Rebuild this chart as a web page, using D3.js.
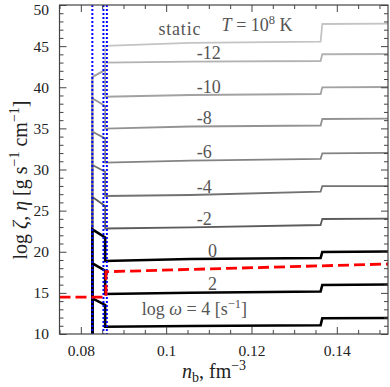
<!DOCTYPE html>
<html>
<head>
<meta charset="utf-8">
<script src="https://cdn.jsdelivr.net/npm/d3@7"></script>
<style>
  body { margin: 0; background: #fff; }
  svg { display: block; }
  text { font-family: "Liberation Serif", "Times New Roman", serif; }
</style>
</head>
<body>
<svg id="canvas" width="390" height="387"></svg>
<script>
// ---------------------------------------------------------------- data
// curves, lightest (static) first so the black ones are drawn on top
var curveNames  = ['static', '-12', '-10', '-8', '-6', '-4', '-2', '0', '2', '4'];
var curveColors = ['#c4c4c4', '#b2b2b2', '#a2a2a2', '#939393', '#838383', '#727272', '#5c5c5c', '#000', '#000', '#000'];
// log viscosity at the nodes along n_b
var pastaLeft  = [41.25, 41.25, 41.25, 38.66, 34.60, 30.55, 26.66, 22.73, 18.60, 14.34];
var pastaRight = [42.10, 42.10, 42.10, 37.72, 33.79, 29.73, 25.56, 21.73, 17.70, 13.53];
var coreStart  = [45.02, 42.99, 38.85, 34.98, 30.83, 26.78, 22.83, 18.88, 14.86, 10.89];
var coreMid    = [45.40, 43.11, 39.06, 35.23, 31.07, 26.90, 22.97, 19.12, 15.02, 10.97];
var preStep    = [45.54, 43.19, 39.18, 35.35, 31.28, 27.30, 23.25, 19.24, 15.17, 11.06];
var postStep   = [47.69, 44.01, 39.99, 36.14, 31.97, 27.99, 23.98, 19.97, 15.96, 11.91];
var rightEnd   = [47.73, 44.04, 40.03, 36.18, 32.01, 27.99, 24.02, 20.03, 16.02, 11.95];
// n_b of the nodes
var nPastaLeft = 0.0827, nPastaRight = 0.0857, nMid = 0.1056, nStepL = 0.1362, nStepR = 0.1366, nMax = 0.152;

// red dashed curve
var redN   = [0.075, 0.0859, 0.0859, 0.152];
var redVal = [14.48, 14.48, 17.57, 18.51];

// blue dotted phase boundaries
var boundaries = [0.0827, 0.0853, 0.0861];

// ticks
var xMajor = [0.08, 0.1, 0.12, 0.14];
var xMajorLabels = ['0.08', '0.1', '0.12', '0.14'];
var xMinor = [0.075, 0.085, 0.09, 0.095, 0.105, 0.11, 0.115, 0.125, 0.13, 0.135, 0.145, 0.15];
var yMajor = [10, 15, 20, 25, 30, 35, 40, 45, 50];
var yMajorLabels = ['10', '15', '20', '25', '30', '35', '40', '45', '50'];

// ---------------------------------------------------------------- layout
var L = 59.5, R = 388, T = 5, B = 334;
var xScale = d3.scaleLinear().domain([0.075, 0.152]).range([L, R]);
var yScale = d3.scaleLinear().domain([10, 50]).range([B, T]);
var yMinor = d3.range(10, 51).filter(function(v){ return v % 5 !== 0; });

var svg = d3.select('#canvas');
svg.append('defs').append('clipPath').attr('id', 'clip')
  .append('rect').attr('x', L).attr('y', T).attr('width', R - L).attr('height', B - T);

var plot = svg.append('g').attr('clip-path', 'url(#clip)');
var lineGen = d3.line().x(function(d){ return xScale(d[0]); }).y(function(d){ return yScale(d[1]); });

// curves
curveNames.forEach(function(name, i){
  var pts = [
    [nPastaLeft, 0], [nPastaLeft, pastaLeft[i]], [nPastaRight, pastaRight[i]],
    [nPastaRight, coreStart[i]], [nMid, coreMid[i]], [nStepL, preStep[i]],
    [nStepR, postStep[i]], [nMax, rightEnd[i]]
  ];
  plot.append('path').attr('d', lineGen(pts))
    .attr('fill', 'none').attr('stroke', curveColors[i])
    .attr('stroke-width', curveColors[i] === '#000' ? 2.6 : 1.8)
    .attr('stroke-linejoin', 'miter');
});

// blue dotted boundaries
boundaries.forEach(function(n){
  plot.append('line').attr('x1', xScale(n)).attr('x2', xScale(n)).attr('y1', T).attr('y2', B)
    .attr('stroke', '#0000ff').attr('stroke-width', 2).attr('stroke-dasharray', '2,2');
});

// red dashed
plot.append('path').attr('d', lineGen(redN.map(function(n, i){ return [n, redVal[i]]; })))
  .attr('fill', 'none').attr('stroke', '#ff0000').attr('stroke-width', 2.8)
  .attr('stroke-dasharray', '11,5');

// ---------------------------------------------------------------- axes
function styleAxis(g){
  g.select('.domain').remove();
  g.selectAll('.tick line').attr('stroke', '#444').attr('stroke-width', 1);
  g.selectAll('.tick text').attr('font-family', '"Liberation Serif", serif').attr('font-size', 15.5).attr('fill', '#222');
}
var fmtX = function(d){ return xMajorLabels[xMajor.indexOf(d)]; };
var fmtY = function(d){ return yMajorLabels[yMajor.indexOf(d)]; };

svg.append('g').attr('transform', 'translate(0,' + B + ')')
  .call(d3.axisBottom(xScale).tickValues(xMajor).tickFormat(fmtX).tickSizeInner(-7).tickSizeOuter(0).tickPadding(11)).call(styleAxis);
svg.append('g').attr('transform', 'translate(0,' + B + ')')
  .call(d3.axisBottom(xScale).tickValues(xMinor).tickFormat('').tickSizeInner(-4).tickSizeOuter(0)).call(styleAxis);
svg.append('g').attr('transform', 'translate(0,' + T + ')')
  .call(d3.axisTop(xScale).tickValues(xMajor).tickFormat('').tickSizeInner(-7).tickSizeOuter(0)).call(styleAxis);
svg.append('g').attr('transform', 'translate(0,' + T + ')')
  .call(d3.axisTop(xScale).tickValues(xMinor).tickFormat('').tickSizeInner(-4).tickSizeOuter(0)).call(styleAxis);

var yAxisG = svg.append('g').attr('transform', 'translate(' + L + ',0)')
  .call(d3.axisLeft(yScale).tickValues(yMajor).tickFormat(fmtY).tickSizeInner(-7).tickSizeOuter(0).tickPadding(10.5)).call(styleAxis);
// top label would run off the page edge, nudge it down a little
yAxisG.selectAll('.tick text').filter(function(d){ return d === 50; }).attr('dy', '0.6em');
svg.append('g').attr('transform', 'translate(' + L + ',0)')
  .call(d3.axisLeft(yScale).tickValues(yMinor).tickFormat('').tickSizeInner(-4).tickSizeOuter(0)).call(styleAxis);
svg.append('g').attr('transform', 'translate(' + R + ',0)')
  .call(d3.axisRight(yScale).tickValues(yMajor).tickFormat('').tickSizeInner(-7).tickSizeOuter(0)).call(styleAxis);
svg.append('g').attr('transform', 'translate(' + R + ',0)')
  .call(d3.axisRight(yScale).tickValues(yMinor).tickFormat('').tickSizeInner(-4).tickSizeOuter(0)).call(styleAxis);

svg.append('rect').attr('x', L).attr('y', T).attr('width', R - L).attr('height', B - T)
  .attr('fill', 'none').attr('stroke', '#444').attr('stroke-width', 1.2);

// ---------------------------------------------------------------- labels
var lab = svg.append('g').attr('fill', '#555').attr('font-size', 18);
curveNames.forEach(function(name, i){
  if (name === 'static' || name === '4') return;
  var n = name.charAt(0) === '-' ? 0.1072 : 0.1098;
  lab.append('text').attr('x', xScale(n)).attr('y', yScale(coreMid[i] + 0.3)).text(name);
});
lab.append('text').attr('x', xScale(0.0982)).attr('y', yScale(46.35)).attr('letter-spacing', 0.8).text('static');

var tl = lab.append('text').attr('x', xScale(0.1130)).attr('y', yScale(46.84));
tl.append('tspan').attr('font-style', 'italic').text('T');
tl.append('tspan').text(' = 10');
tl.append('tspan').attr('font-size', 12.5).attr('dy', -7).text('8');
tl.append('tspan').attr('dy', 7).text(' K');

var wl = lab.append('text').attr('x', xScale(0.0943)).attr('y', yScale(12.31));
wl.append('tspan').text('log ');
wl.append('tspan').attr('font-style', 'italic').text('ω');
wl.append('tspan').text(' = 4 [s');
wl.append('tspan').attr('font-size', 12.5).attr('dy', -7).text('−1');
wl.append('tspan').attr('dy', 7).text(']');

// axis titles
var xt = svg.append('text').attr('x', 182).attr('y', 378).attr('font-size', 20).attr('fill', '#222');
xt.append('tspan').attr('font-style', 'italic').text('n');
xt.append('tspan').attr('font-size', 14).attr('dy', 4).text('b');
xt.append('tspan').attr('dy', -4).text(', fm');
xt.append('tspan').attr('font-size', 14).attr('dy', -8).text('−3');

var yt = svg.append('text').attr('transform', 'translate(27,180) rotate(-90)')
  .attr('text-anchor', 'middle').attr('font-size', 20).attr('fill', '#222');
yt.append('tspan').text('log ');
yt.append('tspan').attr('font-style', 'italic').text('ζ');
yt.append('tspan').text(', ');
yt.append('tspan').attr('font-style', 'italic').text('η');
yt.append('tspan').text(' [g s');
yt.append('tspan').attr('font-size', 14).attr('dy', -8).text('−1');
yt.append('tspan').attr('dy', 8).text(' cm');
yt.append('tspan').attr('font-size', 14).attr('dy', -8).text('−1');
yt.append('tspan').attr('dy', 8).text(']');
</script>
</body>
</html>
